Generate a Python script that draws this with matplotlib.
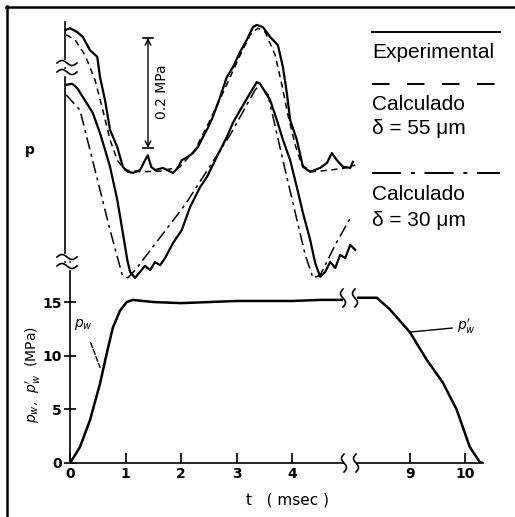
import numpy as np
import matplotlib.pyplot as plt

W, H = 515, 517

# top panel: pressure traces p (MPa, as drawn on the broken axis) vs t (ms)
exp_hi_t = [0.02, 0.09, 0.22, 0.32, 0.45, 0.58, 0.63, 0.72, 0.81, 0.94, 1.04, 1.13, 1.22,
            1.35, 1.44, 1.49, 1.55, 1.62, 1.76, 1.94, 2.03, 2.10, 2.21, 2.30, 2.39, 2.48,
            2.57, 2.66, 2.79, 2.91, 3.02, 3.15, 3.27, 3.38, 3.45, 3.56, 3.69, 3.83, 3.92,
            3.99, 4.05, 4.17, 4.28, 4.41, 4.59, 4.71, 4.80, 4.89, 5.00, 5.13, 5.18]
exp_hi_p = [0.473, 0.476, 0.469, 0.460, 0.436, 0.424, 0.387, 0.345, 0.291, 0.260, 0.224,
            0.215, 0.213, 0.218, 0.236, 0.245, 0.224, 0.218, 0.222, 0.213, 0.222, 0.236,
            0.242, 0.249, 0.260, 0.278, 0.295, 0.315, 0.351, 0.387, 0.405, 0.433, 0.455,
            0.478, 0.482, 0.478, 0.460, 0.445, 0.405, 0.358, 0.309, 0.273, 0.224, 0.215,
            0.222, 0.231, 0.249, 0.236, 0.224, 0.222, 0.233]

calc55_t = [0.02, 0.18, 0.36, 0.54, 0.68, 0.81, 0.94, 1.08, 1.35, 1.71, 2.07, 2.34, 2.61,
            2.88, 3.15, 3.33, 3.47, 3.60, 3.78, 3.90, 4.01, 4.14, 4.26, 4.44, 4.77, 5.04, 5.22]
calc55_p = [0.464, 0.455, 0.427, 0.382, 0.327, 0.273, 0.236, 0.218, 0.215, 0.216, 0.224,
            0.255, 0.309, 0.367, 0.427, 0.464, 0.476, 0.469, 0.427, 0.373, 0.318, 0.264,
            0.227, 0.215, 0.218, 0.222, 0.227]

exp_lo_t = [0.02, 0.13, 0.22, 0.32, 0.50, 0.63, 0.72, 0.81, 0.94, 1.04, 1.12, 1.17, 1.26,
            1.35, 1.44, 1.53, 1.62, 1.71, 1.80, 1.94, 2.10, 2.25, 2.43, 2.55, 2.73, 2.91,
            3.02, 3.15, 3.33, 3.45, 3.51, 3.69, 3.81, 3.92, 4.05, 4.17, 4.28, 4.41, 4.50,
            4.59, 4.68, 4.77, 4.86, 4.95, 5.04, 5.13, 5.22]
exp_lo_p = [0.373, 0.375, 0.367, 0.351, 0.322, 0.285, 0.255, 0.224, 0.164, 0.104, 0.055,
            0.033, 0.022, 0.033, 0.044, 0.036, 0.051, 0.045, 0.058, 0.085, 0.109, 0.151,
            0.187, 0.205, 0.242, 0.278, 0.304, 0.327, 0.358, 0.378, 0.375, 0.345, 0.309,
            0.273, 0.236, 0.187, 0.140, 0.091, 0.049, 0.024, 0.033, 0.051, 0.040, 0.064,
            0.058, 0.082, 0.073]

calc30_t = [0.02, 0.27, 0.54, 0.81, 1.03, 1.13, 1.26, 2.16, 2.97, 3.42, 3.51, 3.65, 3.96,
            4.32, 4.46, 4.59, 4.86, 5.16]
calc30_p = [0.355, 0.327, 0.218, 0.109, 0.027, 0.022, 0.036, 0.155, 0.282, 0.364, 0.373,
            0.355, 0.218, 0.064, 0.022, 0.027, 0.082, 0.136]

# bottom panel: p_w (MPa) vs t (ms), broken time axis
pw_t1 = [0, 0.05, 0.18, 0.36, 0.54, 0.66, 0.77, 0.90, 1.02, 1.13, 1.5, 2.0, 2.5, 3.0,
         3.5, 4.0, 4.5, 4.91]
pw_p1 = [0, 0.4, 1.5, 4.0, 7.4, 10.2, 12.6, 14.2, 15.0, 15.2, 15.0, 14.9, 15.0, 15.1,
         15.1, 15.1, 15.2, 15.2]
pw_t2 = [8.04, 8.40, 8.64, 9.0, 9.31, 9.60, 9.85, 10.09, 10.27, 10.33]
pw_p2 = [15.4, 15.4, 14.3, 12.2, 9.6, 7.5, 5.0, 1.5, 0.1, 0.0]

yticks = [0, 5, 10, 15]
xticks1 = [0, 1, 2, 3, 4]
xticks2 = [9, 10]


def box(x0, y0, x1, y1):
    return [x0 / W, 1 - y1 / H, (x1 - x0) / W, (y1 - y0) / H]


fig = plt.figure(figsize=(W / 100, H / 100), dpi=100)
tick_font = dict(family='DejaVu Sans', weight='bold', size=10)

# --- top panel
ax = fig.add_axes(box(65, 15, 357, 290))
ax.patch.set_visible(False)
ax.set_xlim(0, 292 / 55.6)
ax.set_ylim(0, 0.5)
for s in ['top', 'right', 'bottom']:
    ax.spines[s].set_visible(False)
ax.spines['left'].set_bounds(0.05, 0.487)
ax.spines['left'].set_linewidth(1.2)
ax.set_xticks([])
ax.set_yticks([])
ax.plot(exp_hi_t, exp_hi_p, color='black', lw=1.6)
ax.plot(calc55_t, calc55_p, color='black', lw=1.1, ls=(0, (4, 3)))
ax.plot(exp_lo_t, exp_lo_p, color='black', lw=1.6)
ax.plot(calc30_t, calc30_p, color='black', lw=1.1, ls=(0, (8, 3, 2, 3)))

# --- bottom panel, left part
b1 = fig.add_axes(box(70, 262, 343, 463))
b1.patch.set_visible(False)
b1.set_xlim(0, 273 / 55.6)
b1.set_ylim(0, 201 / 10.73)
b1.spines['top'].set_visible(False)
b1.spines['right'].set_visible(False)
for s in ['left', 'bottom']:
    b1.spines[s].set_linewidth(1.2)
b1.plot(pw_t1, pw_p1, color='black', lw=1.8)
b1.set_yticks(yticks)
b1.set_yticklabels([str(v) for v in yticks], fontdict=tick_font)
b1.set_xticks(xticks1)
b1.set_xticklabels([str(v) for v in xticks1], fontdict=tick_font)
b1.tick_params(axis='y', direction='inout', length=8, width=1.2, pad=2)
b1.tick_params(axis='x', direction='in', length=7, width=1.2, pad=3)
b1.set_ylabel("$p_w$,  $p_w'$  (MPa)", fontsize=10)
b1.yaxis.set_label_coords(-0.099, 0.44)
b1.annotate('$p_w$', xy=(0.54, 8.9), xytext=(0.25, 12.9), fontsize=10,
            ha='center', va='center',
            arrowprops=dict(arrowstyle='-', lw=1.0, ls='--', shrinkA=6, shrinkB=0))

# --- bottom panel, right part
b2 = fig.add_axes(box(357, 262, 483, 463))
b2.patch.set_visible(False)
b2.set_xlim(8.04, 8.04 + 126 / 55)
b2.set_ylim(0, 201 / 10.73)
for s in ['top', 'right', 'left']:
    b2.spines[s].set_visible(False)
b2.spines['bottom'].set_linewidth(1.2)
b2.plot(pw_t2, pw_p2, color='black', lw=1.8)
b2.set_yticks([])
b2.set_xticks(xticks2)
b2.set_xticklabels([str(v) for v in xticks2], fontdict=tick_font)
b2.tick_params(axis='x', direction='in', length=7, width=1.2, pad=3)
b2.annotate("$p_w'$", xy=(9.0, 12.2), xytext=(9.85, 12.7), fontsize=10,
            ha='left', va='center',
            arrowprops=dict(arrowstyle='-', lw=1.0, shrinkA=1, shrinkB=0))

# --- overlay in pixel coordinates: frame, breaks, scale bar, legend
ov = fig.add_axes([0, 0, 1, 1])
ov.set_xlim(0, W)
ov.set_ylim(H, 0)
ov.axis('off')

ov.plot([6, W], [6.5, 6.5], color='black', lw=1.8)
ov.plot([6.5, 6.5], [6, H], color='black', lw=1.8)


def brk(xc, yc, vertical):
    s = np.linspace(-1, 1, 30)
    if vertical:
        ov.plot(xc + 2.5 * np.sin(np.pi * s), yc + 9 * s, color='black', lw=1.2)
    else:
        ov.plot(xc + 10 * s, yc + 2.5 * np.sin(np.pi * s), color='black', lw=1.2)


for yc in (63, 72, 257, 266):
    ov.fill_between([55, 80], yc - 3, yc + 3, color='white', zorder=1)
    brk(67, yc, False)
for xc in (344, 356):
    brk(xc, 463, True)
    brk(xc - 1, 298, True)

# scale bar 0.2 MPa
ov.annotate('', xy=(148, 38), xytext=(148, 148),
            arrowprops=dict(arrowstyle='<->', lw=1.0, color='black',
                            shrinkA=0, shrinkB=0))
ov.plot([143, 153], [38, 38], color='black', lw=1.2)
ov.plot([143, 153], [148, 148], color='black', lw=1.2)
ov.text(162, 92, '0.2 MPa', rotation=90, ha='center', va='center', fontsize=10)
ov.text(30, 150, 'p', ha='center', va='center', fontsize=10, weight='bold')

ov.text(287, 500, 't   ( msec )', ha='center', va='center', fontsize=11,
        family='DejaVu Sans')

# legend
leg_font = dict(family='Liberation Sans', size=15)
ov.plot([372, 500], [32, 32], color='black', lw=1.4)
ov.text(372, 52, 'Experimental', ha='left', va='center', **leg_font)
ov.plot([372, 500], [84, 84], color='black', lw=1.4, ls=(0, (9, 9)))
ov.text(372, 104, 'Calculado', ha='left', va='center', **leg_font)
ov.text(372, 128, 'δ = 55 μm', ha='left', va='center', **leg_font)
ov.plot([372, 500], [173, 173], color='black', lw=1.4, ls=(0, (15, 5, 2, 5)))
ov.text(372, 195, 'Calculado', ha='left', va='center', **leg_font)
ov.text(372, 220, 'δ = 30 μm', ha='left', va='center', **leg_font)

fig.savefig('out.png', dpi=100)
